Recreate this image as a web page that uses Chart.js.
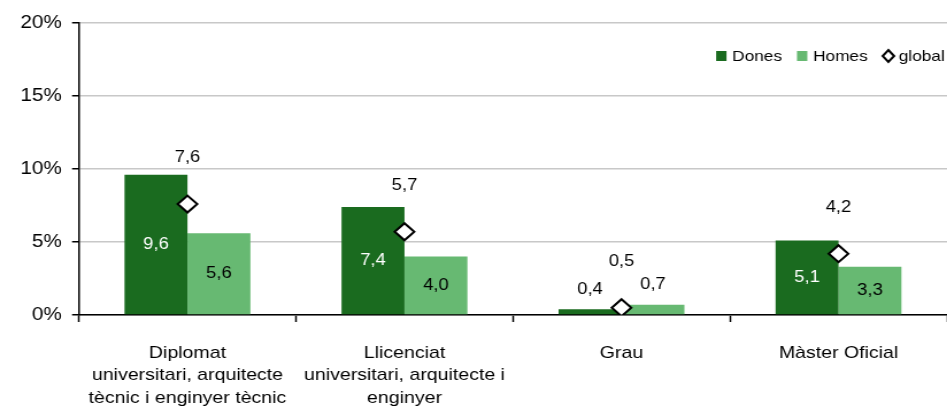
<!DOCTYPE html>
<html>
<head>
<meta charset="utf-8">
<script src="https://cdn.jsdelivr.net/npm/chart.js@4"></script>
<style>
  html, body { margin: 0; padding: 0; background: #fff; overflow: hidden; }
  /* the original chart is a little wider than tall text would suggest, so stretch it */
  #wrap { width: 824px; height: 412px; transform: scaleX(1.1493); transform-origin: 0 0; }
</style>
</head>
<body>
<div id="wrap"><canvas id="chart"></canvas></div>
<script>
// categories and values
const categories = [
    ['Diplomat', 'universitari, arquitecte', 'tècnic i enginyer tècnic'],
    ['Llicenciat', 'universitari, arquitecte i', 'enginyer'],
    'Grau',
    'Màster Oficial'
];
const dones = [9.6, 7.4, 0.4, 5.1];
const homes = [5.6, 4.0, 0.7, 3.3];
const global = [7.6, 5.7, 0.5, 4.2];
const yTicks = [0, 5, 10, 15, 20];

const darkGreen = '#1a6b1f';
const lightGreen = '#67b972';
const fontFamily = '"Liberation Sans", Arial, sans-serif';
const fmt = v => v.toFixed(1).replace('.', ',');

// value labels + legend (no datalabels plugin available offline)
const labelPlugin = {
    id: 'labels',
    afterDatasetsDraw(chart) {
        const c = chart.ctx;
        c.save();
        c.font = '16px ' + fontFamily;
        c.textAlign = 'center';
        c.textBaseline = 'middle';
        [0, 1].forEach(di => {
            const meta = chart.getDatasetMeta(di);
            meta.data.forEach((bar, i) => {
                const v = chart.data.datasets[di].data[i];
                if (v < 1) {
                    c.fillStyle = '#000';
                    c.fillText(fmt(v), bar.x, bar.y - 20);
                } else {
                    c.fillStyle = di === 0 ? '#fff' : '#000';
                    c.fillText(fmt(v), bar.x, (bar.y + bar.base) / 2);
                }
            });
        });
        const pm = chart.getDatasetMeta(2);
        c.fillStyle = '#000';
        pm.data.forEach((pt, i) => {
            c.fillText(fmt(global[i]), pt.x, pt.y - 46);
        });
        c.restore();
    },
    afterDraw(chart) {
        const c = chart.ctx;
        c.save();
        c.font = '15px ' + fontFamily;
        c.textBaseline = 'middle';
        c.textAlign = 'left';
        const y = 56;
        const items = [
            { text: 'Dones', kind: 'box', color: darkGreen },
            { text: 'Homes', kind: 'box', color: lightGreen },
            { text: 'global', kind: 'diamond' }
        ];
        const widths = items.map(it => c.measureText(it.text).width);
        const total = widths.reduce((a, b) => a + b, 0) + items.length * 14 + (items.length - 1) * 13;
        let x = chart.chartArea.right - 2 - total;
        items.forEach((it, i) => {
            if (it.kind === 'box') {
                c.fillStyle = it.color;
                c.fillRect(x, y - 5, 9, 10);
            } else {
                c.beginPath();
                c.moveTo(x + 5, y - 6);
                c.lineTo(x + 10, y);
                c.lineTo(x + 5, y + 6);
                c.lineTo(x, y);
                c.closePath();
                c.fillStyle = '#fff';
                c.fill();
                c.lineWidth = 2;
                c.strokeStyle = '#000';
                c.stroke();
            }
            c.fillStyle = '#000';
            c.fillText(it.text, x + 14, y + 1);
            x += 14 + widths[i] + 13;
        });
        c.restore();
    }
};

const ctx = document.getElementById('chart').getContext('2d');

const chart = new Chart(ctx, {
    type: 'bar',
    data: {
        labels: categories,
        datasets: [{
            label: 'Dones',
            data: dones,
            backgroundColor: darkGreen,
            order: 2
        }, {
            label: 'Homes',
            data: homes,
            backgroundColor: lightGreen,
            order: 2
        }, {
            label: 'global',
            type: 'line',
            data: global,
            showLine: false,
            pointStyle: 'rectRot',
            pointRadius: 8.5,
            pointBackgroundColor: '#fff',
            pointBorderColor: '#000',
            pointBorderWidth: 2,
            order: 1
        }]
    },
    options: {
        responsive: true,
        maintainAspectRatio: false,
        animation: false,
        layout: { autoPadding: false, padding: { top: 23, right: 0, left: 0, bottom: 0 } },
        datasets: {
            bar: { categoryPercentage: 0.58, barPercentage: 1 }
        },
        scales: {
            x: {
                grid: {
                    drawOnChartArea: false,
                    tickLength: 7,
                    tickColor: '#000',
                    tickWidth: 1.5
                },
                border: { color: '#000', width: 1.5 },
                ticks: {
                    color: '#000',
                    padding: 20,
                    maxRotation: 0,
                    autoSkip: false,
                    font: { family: fontFamily, size: 17, lineHeight: 1.32 }
                },
                afterFit(scale) {
                    scale.height = 97;
                    scale.paddingLeft = 0;
                    scale.paddingRight = 0;
                }
            },
            y: {
                min: 0,
                max: 20,
                afterBuildTicks(scale) { scale.ticks = yTicks.map(v => ({ value: v })); },
                grid: {
                    color: '#c8c8c8',
                    lineWidth: 1.5,
                    tickLength: 6,
                    tickColor: '#000'
                },
                border: { color: '#000', width: 1.5 },
                ticks: {
                    color: '#000',
                    padding: 9,
                    callback: v => v + '%',
                    font: { family: fontFamily, size: 18 }
                },
                afterFit(scale) { scale.width = 68.7; }
            }
        },
        plugins: {
            legend: { display: false },
            tooltip: { enabled: false }
        }
    },
    plugins: [labelPlugin]
});
</script>
</body>
</html>
